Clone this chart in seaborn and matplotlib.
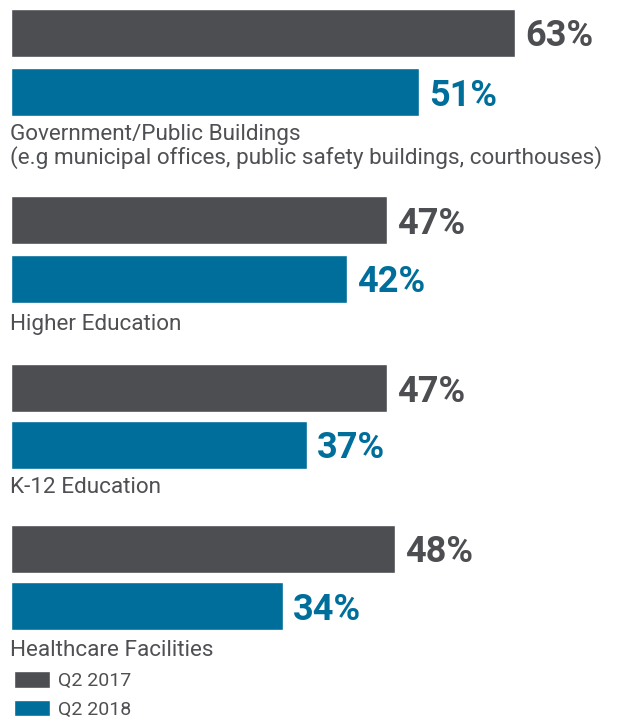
import matplotlib
matplotlib.use("Agg")
import matplotlib.pyplot as plt
import seaborn as sns
import pandas as pd

# ---- data ----
categories = [
    "Government/Public Buildings\n(e.g municipal offices, public safety buildings, courthouses)",
    "Higher Education",
    "K-12 Education",
    "Healthcare Facilities",
]
series = ["Q2 2017", "Q2 2018"]
q2_2017 = [63, 47, 47, 48]
q2_2018 = [51, 42, 37, 34]

# ---- layout / style ----
colors = {"Q2 2017": "#4d4e52", "Q2 2018": "#006e9a"}
text_gray = "#4f5054"
bar_centers = {"Q2 2017": [33, 220, 388, 549], "Q2 2018": [92, 279, 445, 606]}
label_baselines = [[140, 163.5], [330], [493], [656]]
bar_px = 48
W, H = 618, 721
x0_px, px_per_unit = 11, 8

rows = []
for s, vals in zip(series, [q2_2017, q2_2018]):
    for i, v in enumerate(vals):
        rows.append({"series": s, "value": v, "pos": bar_centers[s][i]})
df = pd.DataFrame(rows)

sns.set_theme(style="white")
plt.rcParams["font.family"] = ["Roboto", "DejaVu Sans"]

fig = plt.figure(figsize=(W / 100, H / 100), dpi=100)
ax = fig.add_axes([0, 0, 1, 1])

all_pos = sorted(df["pos"].unique())
min_gap = min(b - a for a, b in zip(all_pos[:-1], all_pos[1:]))

sns.barplot(data=df, x="value", y="pos", hue="series", orient="y",
            native_scale=True, dodge=False, palette=colors,
            width=bar_px / min_gap, saturation=1, ax=ax, legend=True)

ax.set_xlim(-x0_px / px_per_unit, (W - x0_px) / px_per_unit)
ax.set_ylim(H, 0)
ax.axis("off")

# value labels
for s, vals in zip(series, [q2_2017, q2_2018]):
    for i, v in enumerate(vals):
        ax.text(v + 10 / px_per_unit, bar_centers[s][i] + 13.5, f"{v}%",
                ha="left", va="baseline", fontsize=26, fontweight="bold",
                color=colors[s])

# category labels
for cat, bls in zip(categories, label_baselines):
    for line, bl in zip(cat.split("\n"), bls):
        ax.text(-1 / px_per_unit, bl, line, ha="left", va="baseline",
                fontsize=16.2, color=text_gray)

# legend
leg = ax.get_legend()
handles = leg.legend_handles
labels = [t.get_text() for t in leg.get_texts()]
leg.remove()
fig.legend(handles, labels, loc="upper left",
           bbox_to_anchor=(14 / W, 1 - 671 / H), bbox_transform=fig.transFigure,
           frameon=False, fontsize=14, handlelength=1.85, handleheight=0.93,
           handletextpad=0.4, labelspacing=0.5, borderpad=0, borderaxespad=0,
           labelcolor=text_gray)

fig.savefig("out.png", dpi=100)
